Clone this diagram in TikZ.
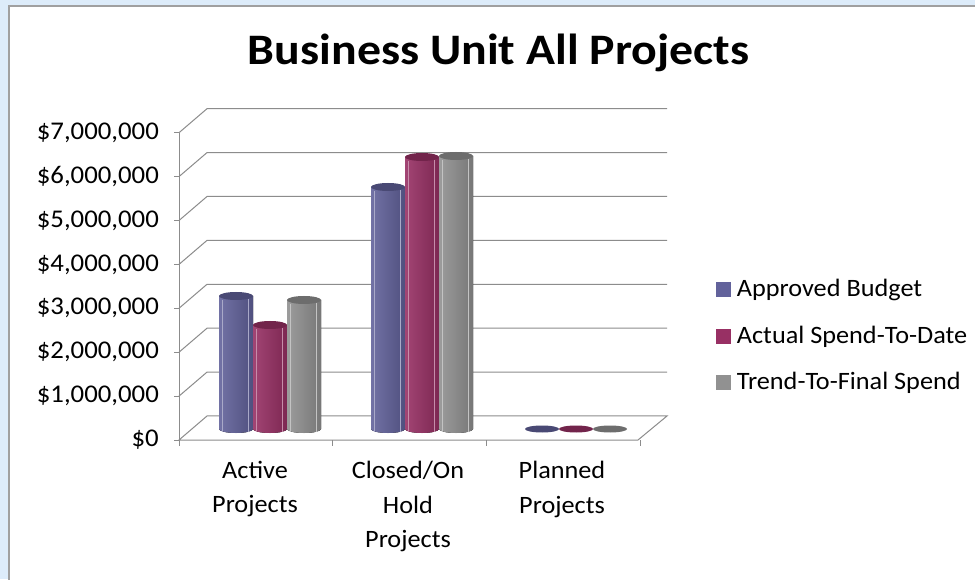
\documentclass[tikz,border=0pt]{standalone}
\usepackage{fontspec}
\setmainfont{Carlito}[FakeStretch=1.05]
\newfontfamily\titlefont{Carlito}[FakeStretch=1.1]
\usepackage{xcolor}
\usetikzlibrary{positioning}

\definecolor{bgblue}{RGB}{221,236,250}
\definecolor{framegray}{RGB}{160,160,160}
\definecolor{gridgray}{RGB}{140,140,140}
\definecolor{budget}{RGB}{98,98,155}
\definecolor{spend}{RGB}{152,48,100}
\definecolor{trend}{RGB}{145,145,145}

\tikzset{
  gridline/.style={draw=gridgray, line width=1pt},
  ylabel/.style={anchor=east, inner sep=0pt, font=\fontsize{25.5}{28}\selectfont},
  catlabel/.style={anchor=north, inner sep=0pt, align=center, font=\fontsize{25}{34.5}\selectfont},
  legsq/.style={minimum size=15pt, inner sep=0pt},
  legtext/.style={anchor=west, inner sep=0pt, font=\fontsize{25}{28}\selectfont},
  charttitle/.style={inner sep=0pt, anchor=base, font=\titlefont\bfseries\fontsize{43.5}{48}\selectfont}
}

\begin{document}
\begin{tikzpicture}[x=1pt, y=1pt]
    \useasboundingbox (0,0) rectangle (975,579);
    \fill[bgblue] (0,0) rectangle (975,579);
    \draw[framegray, fill=white, line width=1.2pt] (9,-5) rectangle (985,573);

    % walls and floor
    \foreach \k in {1,...,7}
        \draw[gridline] (179,139+43.9*\k) -- ++(28,24) -- ++(460,0);
    \draw[gridline] (179,139) -- (638,139) -- ++(29,24) -- (207,163) -- cycle;
    \draw[gridline] (179,139) -- (179,446.3);
    \foreach \k in {0,...,7}
        \draw[gridline] (174,139+43.9*\k) -- ++(5,0);
    \foreach \tx in {179,332,486,640}
        \draw[gridline] (\tx,139) -- ++(0,-6);

    % cylinders
    \foreach \lx/\ty/\col in {219/283/budget,253/254/spend,287/279/trend,371/392/budget,405/422/spend,439/423/trend}{
        \fill[left color=\col!90!white, right color=\col!82!black] (\lx,\ty) -- (\lx,150)
            arc[start angle=180, end angle=360, x radius=17, y radius=4] -- (\lx+34,\ty) -- cycle;
        \draw[white!45!\col, line width=0.7pt] (\lx+3,\ty-4) -- (\lx+3,147);
        \draw[white!45!\col, line width=0.7pt] (\lx+29,\ty-3) -- (\lx+29,147);
        \fill[\col!75!black] (\lx+17,\ty) ellipse[x radius=17, y radius=4];
    }
    \foreach \lx/\col in {525/budget,559/spend,593/trend}
        \fill[\col!75!black] (\lx+17,150) ellipse[x radius=17, y radius=3.5];

    % labels
    \node[charttitle] (title) at (498.5,514) {Business Unit All Projects};
    \node[ylabel] (ylab0) at (159,139) {\$0};
    \foreach \k in {1,...,7}
        \node[ylabel] (ylab\k) at (159,139+43.9*\k) {\$\k,000,000};

    \node[catlabel] (cat1) at (255,118) {Active\\Projects};
    \node[catlabel] (cat2) at (408,118) {Closed/On\\Hold\\Projects};
    \node[catlabel] (cat3) at (562,118) {Planned\\Projects};

    % legend
    \node[legsq, fill=budget] (sq1) at (723,289) {};
    \node[legtext, right=6pt of sq1] (leg1) {Approved Budget};
    \node[legsq, fill=spend] (sq2) at (723,242) {};
    \node[legtext, right=6pt of sq2] (leg2) {Actual Spend-To-Date};
    \node[legsq, fill=trend] (sq3) at (723,196) {};
    \node[legtext, right=6pt of sq3] (leg3) {Trend-To-Final Spend};
\end{tikzpicture}
\end{document}
